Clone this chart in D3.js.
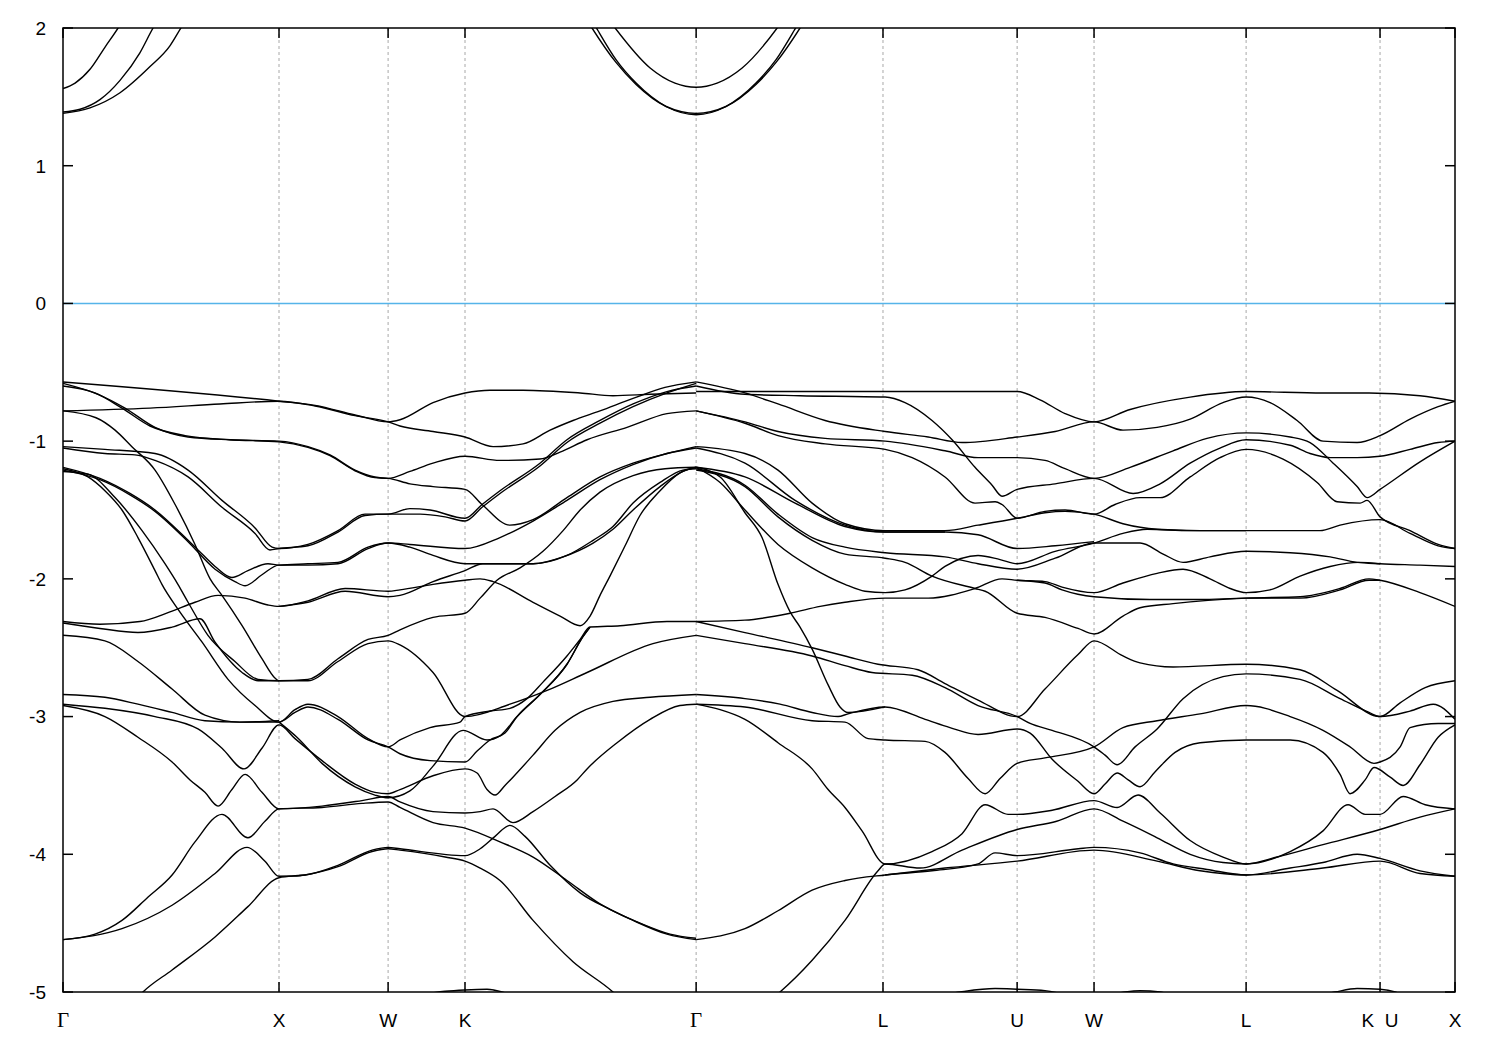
<!DOCTYPE html>
<html><head><meta charset="utf-8">
<script src="https://cdn.jsdelivr.net/npm/d3@7"></script>
<style>body{margin:0;background:#fff}</style>
</head><body>
<svg id="chart" width="1500" height="1050"></svg>
<script>
// High-symmetry points: cumulative k-path distance (units of 2π/a) and labels
const kTicks = [0, 1.0, 1.505, 1.861, 2.931, 3.796, 4.417, 4.773, 5.477, 6.097, 6.444];
const kLabels = ["Γ","X","W","K","Γ","L","U","W","L","K  U","X"];
const energyTicks = [2, 1, 0, -1, -2, -3, -4, -5];
const fermiLevel = 0;

// Conduction bands near Γ  [k, E(eV)]
const conductionBands = [
  [[0,1.56],[0.056,1.60],[0.125,1.70],[0.194,1.86],[0.255,2.0],[0.287,2.08]],
  [[0,1.39],[0.079,1.41],[0.171,1.48],[0.264,1.62],[0.356,1.82],[0.417,2.0],[0.44,2.06]],
  [[0,1.38],[0.125,1.42],[0.264,1.53],[0.403,1.72],[0.495,1.87],[0.546,2.0],[0.579,2.08]],
  [[2.532,2.05],[2.556,2.0],[2.718,1.71],[2.833,1.60],[2.931,1.57],[3.028,1.60],[3.144,1.71],[3.306,2.0],[3.329,2.05]],
  [[2.421,2.07],[2.449,2.0],[2.560,1.75],[2.653,1.59],[2.792,1.43],[2.931,1.38],[3.069,1.43],[3.208,1.59],[3.301,1.75],[3.412,2.0],[3.440,2.07]],
  [[2.444,2.07],[2.477,1.98],[2.560,1.77],[2.653,1.60],[2.792,1.43],[2.931,1.37],[3.069,1.43],[3.208,1.60],[3.301,1.77],[3.384,1.98],[3.417,2.07]]
];

// Valence bands starting at the first Γ
const bandsLeft = [
  [[0,-0.57],[1.0,-0.71],[1.167,-0.74],[1.352,-0.81],[1.505,-0.86],[1.560,-0.845],[1.713,-0.72],[1.861,-0.65],[1.977,-0.63],[2.130,-0.63],[2.394,-0.65],[2.546,-0.67],[2.718,-0.66],[2.931,-0.65]],
  [[0,-0.78],[0.403,-0.76],[0.727,-0.73],[1.0,-0.71],[1.167,-0.745],[1.352,-0.815],[1.505,-0.86],[1.560,-0.89],[1.713,-0.93],[1.861,-0.97],[1.991,-1.04],[2.130,-1.02],[2.255,-0.92],[2.361,-0.85],[2.486,-0.78],[2.639,-0.69],[2.787,-0.61],[2.931,-0.57]],
  [[0,-0.58],[0.162,-0.66],[0.287,-0.76],[0.426,-0.90],[0.579,-0.97],[0.773,-0.99],[1.0,-1.00],[1.134,-1.04],[1.236,-1.10],[1.352,-1.21],[1.444,-1.26],[1.505,-1.27],[1.606,-1.22],[1.713,-1.16],[1.861,-1.11],[2.023,-1.14],[2.208,-1.13],[2.301,-1.08],[2.426,-0.99],[2.611,-0.90],[2.796,-0.80],[2.931,-0.78]],
  [[0,-0.60],[0.148,-0.65],[0.273,-0.76],[0.403,-0.89],[0.565,-0.96],[0.773,-0.99],[1.0,-1.005],[1.134,-1.045],[1.236,-1.105],[1.352,-1.215],[1.444,-1.265],[1.505,-1.27],[1.606,-1.31],[1.713,-1.33],[1.861,-1.35],[1.940,-1.46],[2.069,-1.61],[2.176,-1.57],[2.333,-1.41],[2.486,-1.26],[2.639,-1.16],[2.796,-1.09],[2.931,-1.04]],
  [[0,-0.78],[0.153,-0.83],[0.241,-0.92],[0.319,-1.04],[0.426,-1.21],[0.519,-1.46],[0.611,-1.75],[0.681,-2.0],[0.736,-2.12],[0.829,-2.34],[0.921,-2.58],[0.981,-2.72],[1.0,-2.74],[1.134,-2.73],[1.273,-2.58],[1.412,-2.44],[1.505,-2.41],[1.560,-2.37],[1.713,-2.28],[1.861,-2.25],[1.931,-2.14],[2.009,-2.01],[2.116,-1.92],[2.222,-1.80],[2.315,-1.65],[2.394,-1.50],[2.486,-1.37],[2.639,-1.25],[2.787,-1.20],[2.931,-1.19]],
  [[0,-1.04],[0.194,-1.06],[0.426,-1.09],[0.579,-1.21],[0.736,-1.43],[0.889,-1.63],[0.968,-1.77],[1.0,-1.78],[1.134,-1.75],[1.273,-1.65],[1.398,-1.53],[1.505,-1.53],[1.606,-1.49],[1.699,-1.50],[1.861,-1.56],[1.940,-1.46],[2.023,-1.36],[2.208,-1.16],[2.333,-0.99],[2.486,-0.85],[2.639,-0.73],[2.796,-0.64],[2.931,-0.60]],
  [[0,-1.05],[0.194,-1.09],[0.333,-1.10],[0.426,-1.14],[0.579,-1.26],[0.736,-1.48],[0.889,-1.67],[0.958,-1.79],[1.0,-1.78],[1.134,-1.76],[1.273,-1.66],[1.398,-1.54],[1.505,-1.53],[1.653,-1.53],[1.769,-1.55],[1.861,-1.58],[1.940,-1.48],[2.023,-1.38],[2.208,-1.18],[2.333,-1.01],[2.486,-0.87],[2.639,-0.75],[2.796,-0.65],[2.931,-0.58]],
  [[0,-1.19],[0.171,-1.27],[0.310,-1.38],[0.426,-1.50],[0.579,-1.72],[0.625,-1.79],[0.704,-1.91],[0.782,-1.99],[0.856,-1.94],[0.949,-1.89],[1.0,-1.90],[1.134,-1.89],[1.273,-1.88],[1.412,-1.77],[1.505,-1.74],[1.606,-1.75],[1.861,-1.78],[2.023,-1.70],[2.176,-1.58],[2.333,-1.43],[2.486,-1.28],[2.639,-1.17],[2.796,-1.09],[2.931,-1.05]],
  [[0,-1.21],[0.171,-1.28],[0.310,-1.39],[0.426,-1.51],[0.579,-1.73],[0.704,-1.93],[0.796,-2.02],[0.843,-2.05],[0.921,-1.97],[1.0,-1.90],[1.134,-1.90],[1.273,-1.89],[1.412,-1.78],[1.505,-1.74],[1.606,-1.77],[1.713,-1.83],[1.861,-1.89],[2.023,-1.89],[2.176,-1.89],[2.333,-1.83],[2.454,-1.72],[2.546,-1.62],[2.639,-1.45],[2.764,-1.30],[2.870,-1.21],[2.931,-1.20]],
  [[0,-1.20],[0.116,-1.26],[0.194,-1.36],[0.273,-1.50],[0.347,-1.70],[0.426,-1.94],[0.458,-2.04],[0.532,-2.22],[0.644,-2.46],[0.764,-2.73],[0.889,-2.92],[1.0,-3.04],[1.074,-2.95],[1.134,-2.91],[1.273,-3.00],[1.412,-3.16],[1.505,-3.22],[1.560,-3.17],[1.699,-3.08],[1.838,-3.04],[1.861,-3.00],[1.977,-2.96],[2.069,-2.94],[2.148,-2.87],[2.222,-2.75],[2.333,-2.56],[2.394,-2.44],[2.440,-2.35],[2.579,-2.34],[2.796,-2.31],[2.931,-2.31]],
  [[0,-1.22],[0.116,-1.24],[0.241,-1.41],[0.366,-1.65],[0.472,-1.89],[0.532,-2.04],[0.579,-2.17],[0.671,-2.41],[0.796,-2.60],[0.903,-2.73],[1.0,-2.74],[1.134,-2.74],[1.273,-2.60],[1.412,-2.47],[1.505,-2.45],[1.560,-2.48],[1.713,-2.68],[1.861,-3.00],[2.069,-2.91],[2.241,-2.81],[2.426,-2.68],[2.731,-2.47],[2.931,-2.41]],
  [[0,-2.31],[0.171,-2.33],[0.356,-2.31],[0.495,-2.24],[0.611,-2.17],[0.718,-2.12],[0.843,-2.14],[0.949,-2.19],[1.0,-2.20],[1.134,-2.16],[1.306,-2.07],[1.505,-2.09],[1.560,-2.08],[1.713,-2.04],[1.861,-2.01],[1.931,-2.00],[1.991,-2.02],[2.176,-2.17],[2.301,-2.27],[2.394,-2.34],[2.440,-2.27],[2.486,-2.12],[2.532,-1.98],[2.602,-1.76],[2.671,-1.54],[2.764,-1.36],[2.856,-1.23],[2.931,-1.19]],
  [[0,-2.32],[0.171,-2.36],[0.347,-2.39],[0.505,-2.35],[0.634,-2.29],[0.704,-2.46],[0.829,-2.68],[0.903,-2.74],[1.0,-2.74]],
  [[0,-2.41],[0.194,-2.45],[0.347,-2.60],[0.505,-2.80],[0.657,-2.99],[0.819,-3.04],[1.0,-3.04],[1.074,-2.97],[1.134,-2.93],[1.273,-3.02],[1.412,-3.17],[1.505,-3.22],[1.560,-3.27],[1.699,-3.32],[1.861,-3.33],[1.917,-3.25],[1.977,-3.17],[2.046,-3.12],[2.102,-3.00],[2.208,-2.84],[2.333,-2.62],[2.407,-2.42],[2.440,-2.35]],
  [[0,-2.84],[0.194,-2.86],[0.347,-2.91],[0.505,-2.97],[0.657,-3.03],[0.819,-3.04],[1.0,-3.03]],
  [[0,-2.91],[0.194,-2.94],[0.426,-3.00],[0.625,-3.09],[0.736,-3.23],[0.838,-3.38],[0.921,-3.23],[1.0,-3.06],[1.074,-3.16],[1.199,-3.32],[1.352,-3.49],[1.444,-3.55],[1.505,-3.56],[1.560,-3.53],[1.713,-3.43],[1.861,-3.38],[1.917,-3.41],[1.963,-3.53],[2.0,-3.57],[2.046,-3.50],[2.083,-3.44],[2.176,-3.28],[2.278,-3.10],[2.394,-2.97],[2.546,-2.89],[2.718,-2.86],[2.931,-2.84]],
  [[0,-2.92],[0.194,-3.00],[0.347,-3.15],[0.505,-3.33],[0.588,-3.46],[0.657,-3.55],[0.718,-3.65],[0.782,-3.53],[0.843,-3.42],[0.921,-3.55],[1.0,-3.67],[1.199,-3.65],[1.384,-3.61],[1.505,-3.58],[1.560,-3.62],[1.713,-3.69],[1.861,-3.70],[1.931,-3.69],[1.991,-3.67],[2.083,-3.77],[2.176,-3.69],[2.278,-3.58],[2.380,-3.46],[2.426,-3.38],[2.565,-3.19],[2.718,-3.02],[2.856,-2.92],[2.931,-2.91]],
  [[0,-4.62],[0.148,-4.58],[0.273,-4.48],[0.394,-4.31],[0.505,-4.15],[0.611,-3.91],[0.736,-3.71],[0.856,-3.88],[0.935,-3.76],[1.0,-3.67],[1.199,-3.66],[1.384,-3.63],[1.505,-3.62],[1.560,-3.66],[1.713,-3.77],[1.861,-3.81],[2.023,-3.91],[2.176,-4.02],[2.333,-4.19],[2.486,-4.36],[2.639,-4.48],[2.796,-4.58],[2.931,-4.62]],
  [[0,-4.62],[0.273,-4.54],[0.505,-4.37],[0.704,-4.14],[0.852,-3.95],[0.935,-4.05],[1.0,-4.16],[1.120,-4.15],[1.273,-4.08],[1.431,-3.97],[1.505,-3.95],[1.560,-3.96],[1.861,-4.01],[1.931,-3.96],[2.0,-3.87],[2.069,-3.79],[2.139,-3.87],[2.255,-4.08],[2.394,-4.28],[2.532,-4.40],[2.671,-4.50],[2.810,-4.58],[2.931,-4.61]],
  [[0.310,-5.1],[0.370,-5.0],[0.505,-4.84],[0.704,-4.60],[0.856,-4.38],[1.0,-4.17],[1.120,-4.15],[1.273,-4.09],[1.431,-3.98],[1.505,-3.96],[1.560,-3.97],[1.769,-4.02],[1.861,-4.05],[1.931,-4.10],[2.023,-4.19],[2.176,-4.48],[2.361,-4.78],[2.546,-5.0],[2.60,-5.08]],
  [[1.0,-3.04],[1.083,-3.15],[1.199,-3.34],[1.352,-3.51],[1.444,-3.57],[1.505,-3.59],[1.606,-3.54],[1.713,-3.36],[1.852,-3.10],[1.963,-3.17],[2.023,-3.14],[2.102,-3.00],[2.208,-2.84],[2.333,-2.62],[2.407,-2.42],[2.440,-2.35]],
  [[1.0,-2.20],[1.134,-2.17],[1.306,-2.09],[1.505,-2.13],[1.560,-2.12],[1.713,-2.02],[1.861,-1.94],[1.944,-1.89],[2.176,-1.89],[2.315,-1.84],[2.454,-1.74],[2.546,-1.64],[2.639,-1.50],[2.764,-1.33],[2.870,-1.22],[2.931,-1.19]]
];

// Valence bands starting at the central Γ
const bandsRight = [
  [[2.931,-0.64],[3.157,-0.64],[3.806,-0.64],[4.153,-0.64],[4.417,-0.64],[4.523,-0.70],[4.639,-0.80],[4.773,-0.86],[4.940,-0.77],[5.218,-0.68],[5.477,-0.64],[5.833,-0.65],[6.046,-0.65],[6.282,-0.67],[6.444,-0.71]],
  [[2.931,-0.60],[3.157,-0.66],[3.412,-0.67],[3.806,-0.68],[3.898,-0.72],[4.023,-0.85],[4.116,-0.99],[4.222,-1.19],[4.301,-1.32],[4.347,-1.40],[4.417,-1.35],[4.593,-1.31],[4.773,-1.27],[4.954,-1.38],[5.079,-1.31],[5.218,-1.16],[5.356,-1.05],[5.477,-0.99],[5.681,-1.03],[5.773,-1.09],[5.866,-1.12],[5.991,-1.12],[6.097,-1.11],[6.236,-1.06],[6.366,-1.01],[6.444,-1.00]],
  [[2.931,-0.57],[3.157,-0.65],[3.310,-0.73],[3.528,-0.85],[3.806,-0.93],[4.005,-0.97],[4.162,-1.01],[4.417,-0.97],[4.593,-0.93],[4.773,-0.86],[4.907,-0.92],[5.065,-0.90],[5.218,-0.84],[5.370,-0.72],[5.477,-0.68],[5.588,-0.72],[5.713,-0.85],[5.833,-1.00],[5.991,-1.01],[6.097,-0.96],[6.236,-0.84],[6.366,-0.75],[6.444,-0.71]],
  [[2.931,-0.78],[3.157,-0.86],[3.310,-0.93],[3.528,-0.98],[3.806,-1.00],[4.083,-1.07],[4.236,-1.12],[4.417,-1.12],[4.546,-1.14],[4.639,-1.20],[4.773,-1.27],[4.940,-1.19],[5.139,-1.07],[5.296,-0.98],[5.477,-0.94],[5.681,-0.97],[5.773,-1.01],[5.880,-1.16],[5.991,-1.33],[6.037,-1.41],[6.097,-1.35],[6.282,-1.15],[6.444,-1.00]],
  [[2.931,-0.78],[3.157,-0.87],[3.310,-0.96],[3.528,-1.02],[3.806,-1.06],[3.931,-1.12],[4.083,-1.26],[4.222,-1.45],[4.315,-1.44],[4.347,-1.46],[4.417,-1.56],[4.546,-1.51],[4.639,-1.50],[4.773,-1.53],[4.870,-1.46],[4.986,-1.41],[5.079,-1.41],[5.218,-1.26],[5.356,-1.12],[5.477,-1.06],[5.648,-1.13],[5.806,-1.30],[5.898,-1.44],[6.005,-1.45],[6.037,-1.43],[6.097,-1.55],[6.236,-1.65],[6.366,-1.75],[6.444,-1.78]],
  [[2.931,-1.04],[3.157,-1.09],[3.310,-1.21],[3.468,-1.45],[3.620,-1.60],[3.806,-1.65],[4.083,-1.65],[4.236,-1.61],[4.417,-1.56],[4.546,-1.52],[4.639,-1.51],[4.773,-1.53],[4.907,-1.60],[5.065,-1.64],[5.264,-1.65],[5.477,-1.65],[5.819,-1.65],[5.912,-1.61],[6.097,-1.57],[6.236,-1.67],[6.366,-1.76],[6.444,-1.78]],
  [[2.931,-1.05],[3.157,-1.16],[3.389,-1.43],[3.620,-1.61],[3.806,-1.66],[4.083,-1.66],[4.236,-1.68],[4.417,-1.78],[4.593,-1.76],[4.773,-1.73]],
  [[2.931,-1.19],[3.157,-1.26],[3.389,-1.45],[3.620,-1.62],[3.806,-1.66],[4.083,-1.66]],
  [[2.931,-1.20],[3.157,-1.32],[3.310,-1.53],[3.468,-1.70],[3.620,-1.77],[3.806,-1.81],[4.083,-1.84],[4.236,-1.89],[4.417,-1.93],[4.593,-1.85],[4.773,-1.74],[4.986,-1.74],[5.093,-1.82],[5.185,-1.88],[5.310,-1.84],[5.477,-1.80],[5.681,-1.81],[5.866,-1.84],[5.991,-1.88],[6.097,-1.89],[6.282,-1.90],[6.444,-1.91]],
  [[2.931,-1.21],[3.157,-1.33],[3.310,-1.55],[3.468,-1.72],[3.620,-1.82],[3.806,-1.85],[3.898,-1.88],[4.023,-1.98],[4.222,-2.07],[4.269,-2.09],[4.417,-2.25],[4.546,-2.28],[4.699,-2.36],[4.773,-2.40],[4.907,-2.27],[4.986,-2.21],[5.139,-2.18],[5.477,-2.14],[5.727,-2.13],[5.912,-2.07],[6.046,-2.00],[6.097,-2.01],[6.282,-2.10],[6.444,-2.20]],
  [[2.931,-1.19],[3.042,-1.30],[3.157,-1.50],[3.310,-1.75],[3.468,-1.92],[3.620,-2.04],[3.713,-2.09],[3.806,-2.10],[3.898,-2.08],[4.023,-1.98],[4.083,-1.91],[4.236,-1.83],[4.338,-1.86],[4.417,-1.89],[4.593,-1.80],[4.773,-1.74],[4.907,-1.67],[5.019,-1.64],[5.218,-1.65],[5.477,-1.65]],
  [[2.931,-1.19],[3.042,-1.26],[3.157,-1.52],[3.236,-1.70],[3.310,-2.04],[3.366,-2.24],[3.412,-2.35],[3.468,-2.51],[3.542,-2.77],[3.597,-2.93],[3.634,-2.97],[3.806,-2.93]],
  [[2.931,-2.31],[3.157,-2.30],[3.366,-2.25],[3.505,-2.20],[3.620,-2.17],[3.806,-2.14],[4.005,-2.14],[4.222,-2.07],[4.347,-2.00],[4.417,-2.01],[4.546,-2.02],[4.625,-2.06],[4.773,-2.10],[4.907,-2.03],[5.065,-1.96],[5.185,-1.93],[5.310,-2.00],[5.403,-2.07],[5.477,-2.10],[5.588,-2.08],[5.727,-1.98],[5.866,-1.91],[6.0,-1.88],[6.097,-1.89]],
  [[2.931,-2.31],[3.157,-2.39],[3.468,-2.50],[3.620,-2.56],[3.773,-2.62],[3.958,-2.66],[4.083,-2.76],[4.236,-2.88],[4.417,-3.00],[4.546,-2.80],[4.699,-2.55],[4.773,-2.45],[4.907,-2.56],[4.986,-2.61],[5.139,-2.64],[5.477,-2.62],[5.727,-2.66],[5.898,-2.81],[6.097,-3.00],[6.236,-2.96],[6.343,-2.91],[6.444,-3.02]],
  [[2.931,-2.41],[3.157,-2.47],[3.468,-2.56],[3.620,-2.63],[3.745,-2.68],[3.931,-2.70],[4.083,-2.79],[4.236,-2.92],[4.417,-3.00],[4.477,-3.05],[4.579,-3.10],[4.773,-3.22],[4.824,-3.28],[4.880,-3.35],[4.963,-3.22],[5.065,-3.09],[5.185,-2.87],[5.370,-2.71],[5.477,-2.69],[5.727,-2.73],[5.912,-2.87],[6.046,-2.97],[6.097,-3.00],[6.190,-2.90],[6.306,-2.79],[6.444,-2.74]],
  [[2.931,-2.84],[3.157,-2.87],[3.319,-2.91],[3.468,-2.97],[3.588,-3.00],[3.634,-2.98],[3.806,-2.93],[3.991,-3.02],[4.106,-3.08],[4.236,-3.13],[4.417,-3.09],[4.477,-3.12],[4.579,-3.31],[4.699,-3.47],[4.773,-3.56],[4.824,-3.49],[4.880,-3.41],[4.931,-3.46],[4.986,-3.51],[5.056,-3.40],[5.148,-3.26],[5.264,-3.19],[5.477,-3.17],[5.681,-3.17],[5.833,-3.26],[5.912,-3.42],[5.958,-3.56],[6.028,-3.46],[6.069,-3.37],[6.144,-3.44],[6.204,-3.50],[6.282,-3.35],[6.366,-3.15],[6.444,-3.06]],
  [[2.931,-2.91],[3.157,-2.93],[3.468,-3.03],[3.620,-3.04],[3.727,-3.16],[3.806,-3.17],[3.991,-3.18],[4.083,-3.26],[4.190,-3.45],[4.269,-3.56],[4.338,-3.45],[4.417,-3.34],[4.546,-3.30],[4.773,-3.22],[4.907,-3.08],[5.065,-3.03],[5.264,-2.98],[5.477,-2.92],[5.681,-3.00],[5.833,-3.10],[5.958,-3.22],[6.069,-3.34],[6.097,-3.33],[6.190,-3.22],[6.236,-3.08],[6.366,-3.05],[6.444,-3.05]],
  [[2.931,-2.91],[3.042,-2.95],[3.157,-3.02],[3.310,-3.19],[3.468,-3.38],[3.542,-3.53],[3.620,-3.66],[3.699,-3.83],[3.806,-4.07],[4.023,-3.98],[4.162,-3.85],[4.269,-3.64],[4.375,-3.71],[4.417,-3.71],[4.579,-3.68],[4.773,-3.61],[4.880,-3.66],[4.977,-3.57],[5.079,-3.70],[5.218,-3.90],[5.370,-4.02],[5.477,-4.07],[5.681,-3.98],[5.833,-3.83],[5.949,-3.64],[6.028,-3.71],[6.097,-3.71],[6.204,-3.58],[6.306,-3.64],[6.444,-3.67]],
  [[2.931,-4.62],[3.157,-4.54],[3.310,-4.41],[3.468,-4.26],[3.620,-4.19],[3.806,-4.15],[4.023,-4.12],[4.236,-4.07],[4.315,-3.99],[4.417,-4.01],[4.70,-3.96],[4.773,-3.95],[4.986,-3.99],[5.139,-4.07],[5.296,-4.11],[5.477,-4.15],[5.681,-4.10],[5.833,-4.06],[5.991,-4.00],[6.097,-4.03],[6.282,-4.12],[6.444,-4.16]],
  [[3.28,-5.05],[3.319,-5.0],[3.468,-4.77],[3.620,-4.48],[3.773,-4.12],[3.806,-4.07],[3.968,-4.10],[4.162,-3.97],[4.417,-3.82],[4.60,-3.76],[4.773,-3.67],[4.907,-3.76],[5.065,-3.88],[5.218,-4.00],[5.370,-4.06],[5.477,-4.07],[5.620,-4.02],[5.833,-3.93],[6.097,-3.82],[6.282,-3.73],[6.444,-3.67]],
  [[3.806,-4.15],[4.083,-4.10],[4.417,-4.05],[4.773,-3.97],[5.065,-4.05],[5.264,-4.12],[5.477,-4.15],[5.833,-4.10],[6.097,-4.05],[6.282,-4.14],[6.444,-4.16]],
  [[4.417,-2.01],[4.546,-2.03],[4.625,-2.08],[4.773,-2.13],[5.032,-2.15],[5.264,-2.15],[5.477,-2.14],[5.727,-2.14],[5.912,-2.08],[6.046,-2.01],[6.097,-2.01]]
];

// Tops of bands lying just below -5 eV
const bottomBands = [
  [[1.653,-5.02],[1.769,-4.995],[1.861,-4.985],[1.963,-4.98],[2.056,-5.01],[2.10,-5.03]],
  [[4.037,-5.03],[4.153,-5.0],[4.315,-4.975],[4.417,-4.98],[4.546,-4.99],[4.662,-5.03]],
  [[4.824,-5.03],[4.917,-5.0],[4.986,-4.99],[5.079,-5.0],[5.148,-5.03]],
  [[5.796,-5.03],[5.889,-5.0],[5.991,-4.975],[6.097,-4.98],[6.167,-5.0],[6.213,-5.03]]
];

const width = 1500, height = 1050;
const margin = {left: 63, right: 45, top: 28, bottom: 58};
const x = d3.scaleLinear().domain([0, kTicks[kTicks.length - 1]]).range([margin.left, width - margin.right]);
const y = d3.scaleLinear().domain([-5, 2]).range([height - margin.bottom, margin.top]);

const svg = d3.select("#chart");
svg.append("rect").attr("width", width).attr("height", height).attr("fill", "#fff");

svg.append("defs").append("clipPath").attr("id", "plotclip")
  .append("rect").attr("x", x.range()[0]).attr("y", y.range()[1])
  .attr("width", x.range()[1] - x.range()[0]).attr("height", y.range()[0] - y.range()[1]);

// dashed verticals at interior high-symmetry points
svg.append("g").selectAll("line").data(kTicks.slice(1, -1)).join("line")
  .attr("x1", d => x(d)).attr("x2", d => x(d))
  .attr("y1", y(2)).attr("y2", y(-5))
  .attr("stroke", "#a8a8a8").attr("stroke-width", 1).attr("stroke-dasharray", "3,3");

// Fermi level
svg.append("line").attr("x1", x.range()[0]).attr("x2", x.range()[1])
  .attr("y1", y(fermiLevel)).attr("y2", y(fermiLevel))
  .attr("stroke", "#56b4e9").attr("stroke-width", 1.5);

const line = d3.line().x(d => x(d[0])).y(d => y(d[1])).curve(d3.curveMonotoneX);
const allBands = [].concat(conductionBands, bandsLeft, bandsRight, bottomBands);
svg.append("g").attr("clip-path", "url(#plotclip)").selectAll("path").data(allBands).join("path")
  .attr("d", line).attr("fill", "none").attr("stroke", "#000").attr("stroke-width", 1.4)
  .attr("stroke-linejoin", "round");

// frame
svg.append("rect").attr("x", x.range()[0]).attr("y", y.range()[1])
  .attr("width", x.range()[1] - x.range()[0]).attr("height", y.range()[0] - y.range()[1])
  .attr("fill", "none").attr("stroke", "#000").attr("stroke-width", 1.5);

// y ticks (mirrored, inward)
const tickLen = 10;
const yt = svg.append("g");
energyTicks.forEach(e => {
  yt.append("line").attr("x1", x.range()[0]).attr("x2", x.range()[0] + tickLen).attr("y1", y(e)).attr("y2", y(e)).attr("stroke", "#000").attr("stroke-width", 1.5);
  yt.append("line").attr("x1", x.range()[1] - tickLen).attr("x2", x.range()[1]).attr("y1", y(e)).attr("y2", y(e)).attr("stroke", "#000").attr("stroke-width", 1.5);
  yt.append("text").attr("x", x.range()[0] - 17).attr("y", y(e)).attr("dy", "0.36em")
    .attr("text-anchor", "end").attr("font-family", "Liberation Sans, Arial, sans-serif")
    .attr("font-size", 19).text(e);
});

// x ticks (mirrored, inward) and labels
const xt = svg.append("g");
kTicks.forEach((k, i) => {
  xt.append("line").attr("x1", x(k)).attr("x2", x(k)).attr("y1", y(-5)).attr("y2", y(-5) - tickLen).attr("stroke", "#000").attr("stroke-width", 1.5);
  xt.append("line").attr("x1", x(k)).attr("x2", x(k)).attr("y1", y(2)).attr("y2", y(2) + tickLen).attr("stroke", "#000").attr("stroke-width", 1.5);
  const isGamma = kLabels[i] === "Γ";
  xt.append("text").attr("x", x(k)).attr("y", 1027).attr("text-anchor", "middle")
    .style("white-space", "pre")
    .attr("font-family", isGamma ? "Liberation Serif, Times New Roman, serif" : "Liberation Sans, Arial, sans-serif")
    .attr("font-size", isGamma ? 21 : 19).text(kLabels[i]);
});
</script>
</body></html>
